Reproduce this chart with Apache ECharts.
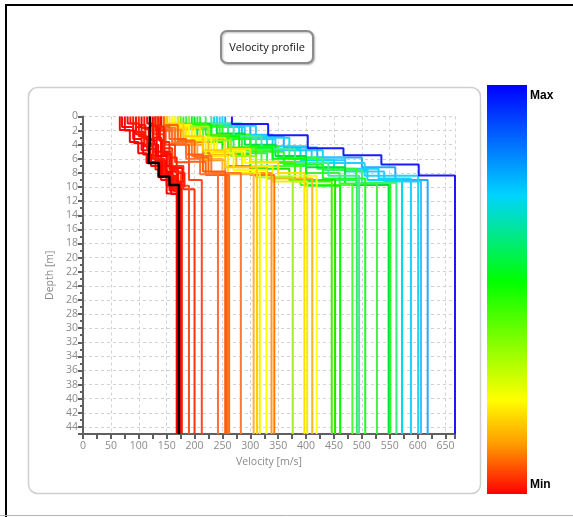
<!DOCTYPE html>
<html>
<head>
<meta charset="utf-8">
<script src="https://cdn.jsdelivr.net/npm/echarts@6/dist/echarts.min.js"></script>
<style>
  html, body { margin: 0; padding: 0; background: #fff; }
  #chart { width: 573px; height: 517px; }
</style>
</head>
<body>
<div id="chart"></div>
<script>
// half-space continues to the bottom of the axis
var depthMax = 45;
var velocityMax = 667;

// layer velocities [m/s], top to bottom (last one is the half-space)
var profileVs = [
    [255, 300, 360, 420, 500, 560, 618],
    [245, 290, 345, 410, 470, 540, 606],
    [250, 310, 370, 430, 505, 601],
    [240, 285, 340, 400, 470, 530, 588],
    [235, 280, 330, 390, 450, 510, 572],
    [220, 260, 310, 370, 430, 500, 562],
    [210, 250, 300, 350, 420, 490, 551],
    [200, 240, 290, 345, 400, 470, 548],
    [190, 230, 285, 340, 400, 460, 527],
    [205, 245, 300, 360, 430, 506],
    [230, 270, 320, 380, 440, 495],
    [185, 225, 270, 330, 400, 491],
    [175, 215, 265, 320, 390, 483],
    [195, 230, 280, 340, 400, 461],
    [170, 205, 250, 300, 370, 452],
    [180, 220, 260, 310, 380, 446],
    [165, 200, 240, 290, 350, 419],
    [150, 185, 225, 275, 330, 411],
    [160, 195, 235, 285, 340, 402],
    [170, 210, 255, 300, 350, 397],
    [190, 225, 265, 310, 376],
    [145, 175, 215, 260, 300, 343],
    [150, 180, 215, 255, 338],
    [160, 190, 230, 270, 329],
    [155, 185, 220, 260, 317],
    [150, 180, 215, 255, 312],
    [145, 170, 205, 250, 306],
    [140, 165, 195, 230, 283],
    [145, 170, 200, 225, 262],
    [140, 160, 190, 220, 258],
    [135, 155, 185, 215, 255],
    [138, 160, 185, 210, 242],
    [135, 148, 165, 190, 213],
    [130, 145, 160, 180, 200],
    [128, 145, 160, 175, 190],
    [130, 138, 146, 155, 168, 177],
    [100, 112, 126, 140, 158, 175],
    [80, 95, 110, 125, 145, 160, 174],
    [125, 128, 135, 142, 160, 172],
    [110, 120, 130, 145, 162, 171],
    [95, 105, 118, 130, 150, 170],
    [140, 135, 140, 150, 160, 169],
    [70, 90, 105, 120, 140, 155, 171],
    [85, 100, 115, 130, 148, 165, 173],
    [105, 118, 132, 150, 170, 176],
    [90, 110, 125, 145, 165, 176],
    [115, 125, 140, 155, 170, 174],
    [135, 145, 155, 168, 182, 173],
    [75, 92, 108, 122, 140, 158, 169],
    [120, 132, 142, 158, 178, 170],
    [66, 84, 99, 114, 135, 150, 168],
    [267, 332, 403, 467, 535, 602, 667]
];

// interface depths [m] between the layers above
var profileDepths = [
    [1.2, 2.8, 4.4, 5.8, 7.2, 9.0],
    [1.5, 3.2, 4.8, 6.2, 7.8, 9.2],
    [1.3, 3.0, 4.8, 6.6, 8.4],
    [1.0, 2.6, 4.2, 5.8, 7.4, 8.8],
    [1.2, 2.8, 4.6, 6.2, 7.6, 9.0],
    [1.4, 3.0, 4.6, 6.0, 7.6, 9.4],
    [1.2, 2.6, 4.2, 5.8, 7.4, 9.6],
    [1.0, 2.4, 4.0, 5.6, 7.2, 9.7],
    [1.6, 3.2, 4.8, 6.4, 8.0, 9.5],
    [1.4, 3.2, 5.0, 6.8, 8.8],
    [1.0, 2.8, 4.6, 6.6, 8.4],
    [1.8, 3.4, 5.2, 7.0, 9.0],
    [1.5, 3.0, 4.8, 7.0, 9.7],
    [1.2, 2.8, 4.4, 6.0, 9.8],
    [1.6, 3.6, 5.4, 7.4, 9.0],
    [1.0, 2.6, 4.4, 6.6, 9.2],
    [1.4, 3.0, 4.8, 6.6, 8.4],
    [1.8, 3.6, 5.4, 7.2, 8.8],
    [1.2, 3.2, 5.0, 7.0, 9.2],
    [1.6, 3.0, 4.6, 6.4, 8.0],
    [1.4, 3.4, 5.6, 8.6],
    [1.6, 3.6, 5.2, 7.0, 8.3],
    [2.0, 4.0, 6.2, 8.0],
    [1.2, 3.0, 5.2, 7.6],
    [1.6, 3.4, 5.6, 8.0],
    [1.0, 2.8, 4.8, 7.2],
    [1.8, 3.8, 6.0, 8.2],
    [1.6, 3.6, 5.6, 8.0],
    [1.2, 3.4, 5.8, 8.3],
    [2.0, 4.0, 6.4, 8.3],
    [1.4, 3.2, 5.4, 7.8],
    [1.8, 3.8, 6.0, 8.2],
    [1.8, 4.0, 6.5, 9.0],
    [2.0, 4.5, 7.0, 10.3],
    [2.5, 5.0, 7.8, 9.8],
    [1.5, 3.5, 5.5, 7.5, 9.5],
    [1.2, 3.2, 5.0, 7.0, 9.2],
    [1.0, 2.5, 4.2, 6.0, 8.0, 10.2],
    [2.0, 4.0, 6.0, 8.0, 10.0],
    [1.8, 3.8, 6.2, 8.4, 10.5],
    [1.5, 3.0, 5.5, 7.5, 9.8],
    [1.2, 3.0, 5.0, 7.0, 9.0],
    [1.5, 3.2, 4.8, 6.4, 8.2, 10.5],
    [1.0, 2.8, 4.6, 6.2, 8.4, 10.0],
    [1.6, 3.4, 5.6, 7.8, 9.6],
    [2.2, 4.0, 6.0, 8.4, 10.6],
    [1.0, 3.0, 5.0, 7.2, 9.4],
    [1.4, 3.6, 5.8, 8.0, 9.9],
    [2.0, 3.8, 5.4, 7.0, 9.0, 11.0],
    [1.3, 3.3, 5.3, 7.3, 9.3],
    [1.9, 3.6, 5.2, 6.6, 8.6, 10.9],
    [1.06, 2.66, 4.5, 5.5, 6.8, 8.35]
];

var profileColors = [
    '#2aa8ff', '#3cc4ff', '#1ed4f4', '#22ccff', '#00dce8',
    '#38f07a', '#2cff2c', '#00e040', '#44f044', '#22ff22', '#48e6a0',
    '#34f060', '#4cff28', '#00ff00', '#22e800', '#48f000',
    '#ffff14', '#ffb428', '#f2f000', '#ffe000', '#a2f024',
    '#ff7c00', '#ff9c20', '#ffff00', '#ffee00', '#ffd000', '#ffb040',
    '#ff7a30', '#ff6a00', '#ff6200', '#ff5e10', '#ff7034',
    '#ff4820', '#ff3010', '#ff5020',
    '#ff1a00', '#ff2000', '#ff0800', '#ff0000', '#ff1400', '#ff1000', '#ff0a00',
    '#ff0600', '#ff1200', '#ff0000', '#ff1800', '#ff0c00', '#ff2200', '#ff0000', '#ff1000', '#ff0000',
    '#1a1aff'
];

// mean profile (black)
var meanVs = [120, 117, 136, 155, 172];
var meanDepths = [3.2, 6.6, 8.5, 9.7];

var colorbarStops = [
    [0, '#0000ff'], [0.27, '#00d4ff'], [0.48, '#00ff00'],
    [0.77, '#ffff00'], [0.88, '#ff9900'], [1, '#ff0000']
];

function stepPoints(vs, depths) {
    var pts = [];
    var top = 0;
    for (var i = 0; i < vs.length; i++) {
        var bottom = i < depths.length ? depths[i] : depthMax;
        pts.push([vs[i], top]);
        pts.push([vs[i], bottom]);
        top = bottom;
    }
    return pts;
}

var series = [];
for (var i = 0; i < profileVs.length; i++) {
    series.push({
        type: 'line',
        data: stepPoints(profileVs[i], profileDepths[i]),
        showSymbol: false,
        symbol: 'none',
        silent: true,
        lineStyle: { color: profileColors[i], width: 2 },
        z: 2
    });
}
series.push({
    type: 'line',
    data: stepPoints(meanVs, meanDepths),
    showSymbol: false,
    symbol: 'none',
    silent: true,
    lineStyle: { color: '#000', width: 2.5 },
    z: 3
});

var axisColor = '#606060';
var labelColor = '#8a8a8a';
var font = 'Open Sans';

var chart = echarts.init(document.getElementById('chart'));
chart.setOption({
    animation: false,
    backgroundColor: '#fff',
    grid: { left: 83, right: 118, top: 116.5, bottom: 83 },
    xAxis: {
        type: 'value',
        min: 0,
        max: velocityMax,
        interval: 50,
        name: 'Velocity [m/s]',
        nameLocation: 'middle',
        nameGap: 23,
        nameTextStyle: { color: labelColor, fontSize: 10.5, fontFamily: font },
        axisLine: { show: true, onZero: false, lineStyle: { color: axisColor, width: 2 } },
        axisTick: { show: true, length: 5, lineStyle: { color: axisColor, width: 2 } },
        minorTick: { show: true, splitNumber: 2, length: 5, lineStyle: { color: axisColor, width: 2 } },
        axisLabel: { color: labelColor, fontSize: 10.5, fontFamily: font, margin: 7, showMaxLabel: false },
        splitLine: { show: true, lineStyle: { color: '#d2d2d2', type: [3, 3] } }
    },
    yAxis: {
        type: 'value',
        inverse: true,
        min: 0,
        max: depthMax,
        interval: 2,
        name: 'Depth [m]',
        nameLocation: 'middle',
        nameGap: 27,
        nameTextStyle: { color: labelColor, fontSize: 10.5, fontFamily: font },
        axisLine: { show: true, onZero: false, lineStyle: { color: axisColor, width: 2 } },
        axisTick: { show: true, length: 5, lineStyle: { color: axisColor, width: 2 } },
        minorTick: { show: true, splitNumber: 2, length: 3, lineStyle: { color: axisColor, width: 2 } },
        axisLabel: { color: labelColor, fontSize: 10.5, fontFamily: font, margin: 5, showMaxLabel: false },
        splitLine: { show: true, lineStyle: { color: '#d2d2d2', type: [3, 3] } }
    },
    graphic: [
        // outer frame
        { type: 'line', shape: { x1: 5, y1: 5, x2: 573, y2: 5 }, style: { stroke: '#000', lineWidth: 2 }, silent: true },
        { type: 'line', shape: { x1: 6, y1: 5, x2: 6, y2: 517 }, style: { stroke: '#000', lineWidth: 2 }, silent: true },
        { type: 'line', shape: { x1: 0, y1: 515.5, x2: 573, y2: 515.5 }, style: { stroke: '#b4b4b4', lineWidth: 1 }, silent: true },
        // chart panel
        {
            type: 'rect', z: -10, silent: true,
            shape: { x: 28.5, y: 87.5, width: 452, height: 406, r: 9 },
            style: { fill: 'none', stroke: '#cfcfcf', lineWidth: 1.5 }
        },
        // title box
        {
            type: 'rect', silent: true,
            shape: { x: 221, y: 31, width: 92, height: 32, r: 6 },
            style: { fill: '#fff', stroke: '#8c8c8c', lineWidth: 2, shadowBlur: 2, shadowColor: 'rgba(0,0,0,0.25)', shadowOffsetX: 1, shadowOffsetY: 1 }
        },
        {
            type: 'text', silent: true, x: 267, y: 47.5,
            style: { text: 'Velocity profile', fill: '#111', font: '11px "Open Sans"', align: 'center', verticalAlign: 'middle' }
        },
        // colour scale
        {
            type: 'rect', silent: true,
            shape: { x: 487, y: 85, width: 40, height: 409 },
            style: {
                fill: {
                    type: 'linear', x: 0, y: 0, x2: 0, y2: 1,
                    colorStops: colorbarStops.map(function (s) { return { offset: s[0], color: s[1] }; })
                }
            }
        },
        {
            type: 'text', silent: true, x: 530, y: 96,
            style: { text: 'Max', fill: '#000', font: 'bold 12px "Liberation Sans"', verticalAlign: 'middle' }
        },
        {
            type: 'text', silent: true, x: 530, y: 485,
            style: { text: 'Min', fill: '#000', font: 'bold 12px "Liberation Sans"', verticalAlign: 'middle' }
        }
    ],
    series: series
});
</script>
</body>
</html>
